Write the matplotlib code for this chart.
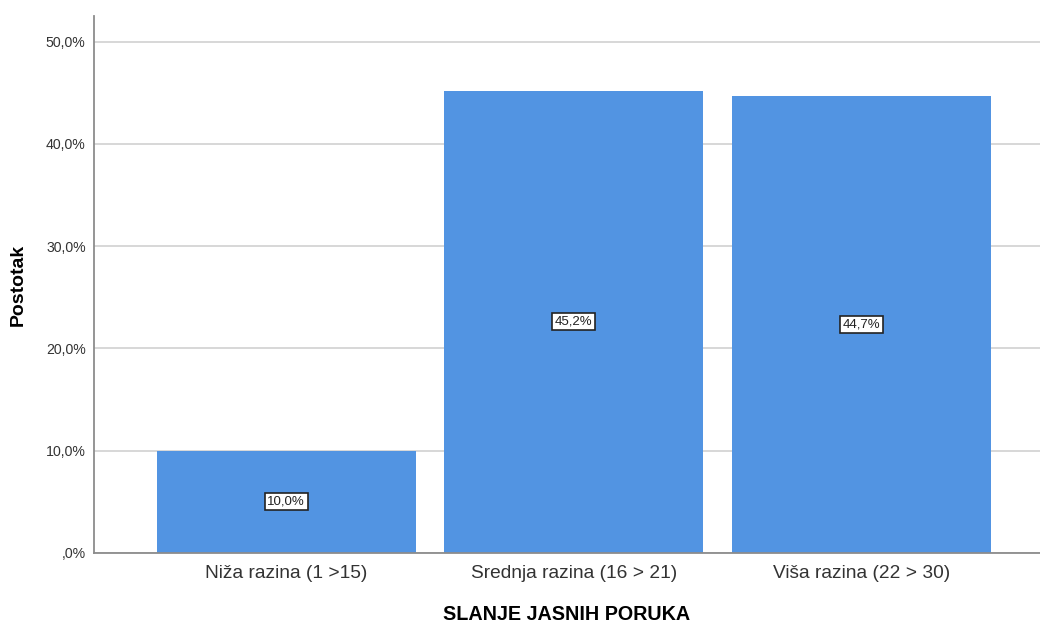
import matplotlib.pyplot as plt
from matplotlib.ticker import FuncFormatter

categories = ["Niža razina (1 >15)", "Srednja razina (16 > 21)", "Viša razina (22 > 30)"]
percent = [10.0, 45.2, 44.7]
yticks = [0, 10, 20, 30, 40, 50]

plt.rcParams['font.family'] = ['Liberation Sans', 'DejaVu Sans']

fig = plt.figure(figsize=(10.4, 6.24), dpi=100)
ax = fig.add_axes([0.0904, 0.1138, 0.9096, 0.8606])

x = range(len(categories))
bars = ax.bar(x, percent, width=0.9, color="#5294e2", zorder=2)

# value labels in the middle of each bar
for b, v in zip(bars, percent):
    ax.text(b.get_x() + b.get_width() / 2, v / 2, "{:.1f}%".format(v).replace(".", ","),
            ha="center", va="center", fontsize=9.5, color="#222222", zorder=3,
            bbox=dict(boxstyle="square,pad=0.2", facecolor="white", edgecolor="#222222", linewidth=1.2))

ax.set_xlim(-0.668, 2.62)
ax.set_ylim(0, 52.5)
ax.set_yticks(yticks)
ax.yaxis.set_major_formatter(FuncFormatter(
    lambda v, p: ",0%" if v == 0 else "{:.1f}%".format(v).replace(".", ",")))
ax.set_xticks(list(x))
ax.set_xticklabels(categories, fontsize=13.8, color="#333333")
ax.tick_params(axis="y", labelsize=10.2, colors="#333333", length=0, pad=6)
ax.tick_params(axis="x", length=0, pad=9)

ax.grid(axis="y", color="#d4d4d4", linewidth=1.3, zorder=0)
for s in ["top", "right"]:
    ax.spines[s].set_visible(False)
for s in ["left", "bottom"]:
    ax.spines[s].set_color("#8c8c8c")
    ax.spines[s].set_linewidth(1.3)

ax.set_xlabel("SLANJE JASNIH PORUKA", fontsize=14.2, fontweight="bold", labelpad=16)
ax.set_ylabel("Postotak", fontsize=14, fontweight="bold", labelpad=14)

fig.savefig("out.png", dpi=100)
